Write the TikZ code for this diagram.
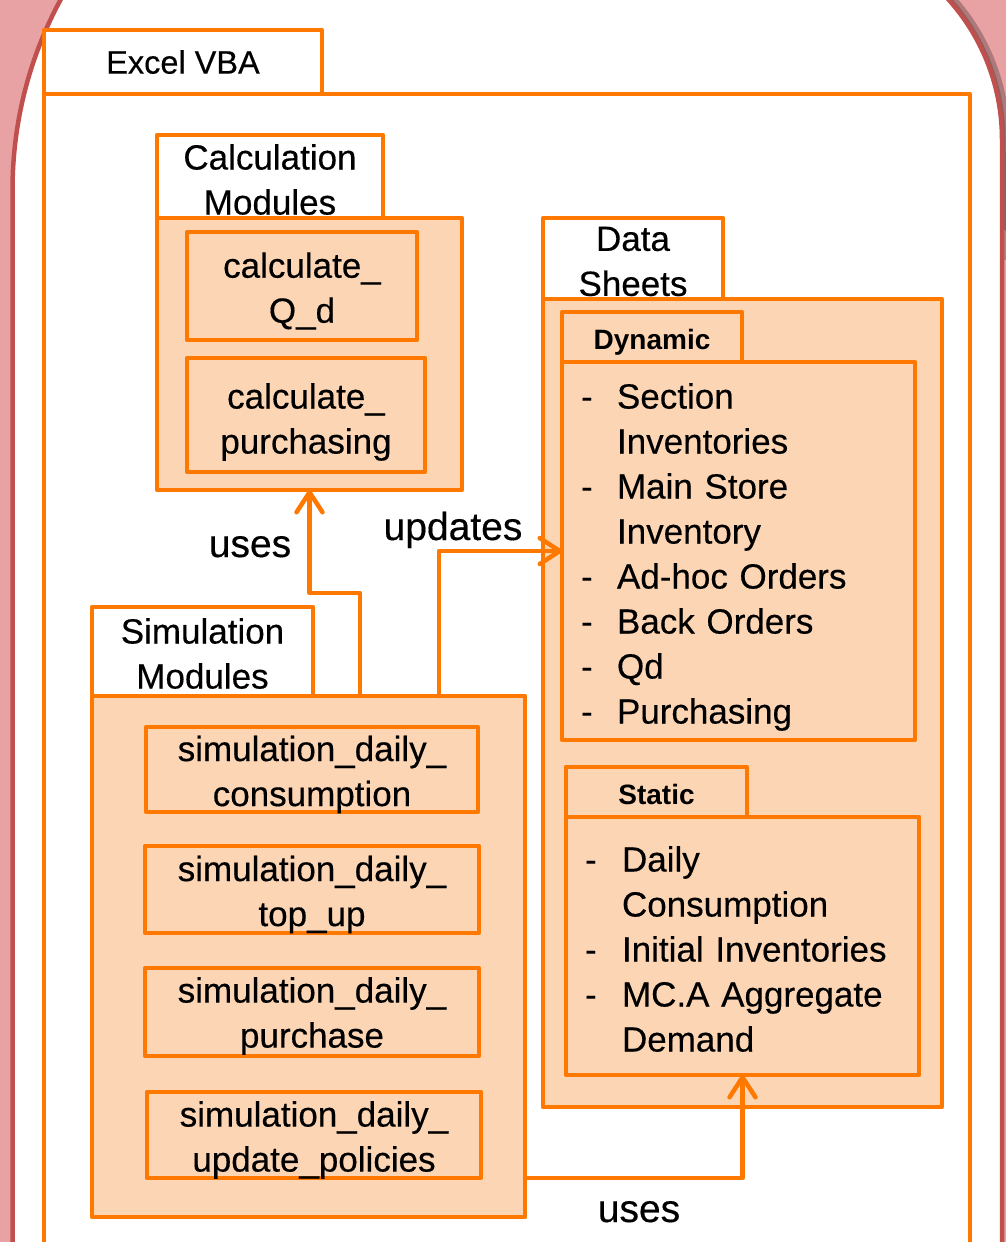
\documentclass[tikz,border=0pt]{standalone}
\usepackage{fontspec}
\setmainfont{Liberation Sans}[FakeBold=0.35]
\newfontfamily\subfam{Liberation Sans}[UprightFont=*-Bold]
\usetikzlibrary{arrows.meta,calc}
\definecolor{orangeline}{RGB}{255,121,0}
\definecolor{peach}{RGB}{252,213,180}
\definecolor{pinkbg}{RGB}{232,162,164}
\definecolor{borderred}{RGB}{192,80,77}
\newcommand\fmain{\fontsize{35}{45}\selectfont}
\newcommand\fvba{\fontsize{32.5}{40}\selectfont}
\newcommand\fsub{\subfam\fontsize{28}{34}\selectfont}
\newcommand\flbl{\fontsize{39}{45}\selectfont}
\newcommand\dashitem[1]{\makebox[36pt][l]{-}#1}
\newcommand\contitem[1]{\hspace*{36pt}#1}
\newcommand\sdashitem[1]{\makebox[37pt][l]{-}#1}
\newcommand\scontitem[1]{\hspace*{37pt}#1}
\begin{document}
\begin{tikzpicture}[x=1pt,y=-1pt,
  box/.style={draw=orangeline, line width=4.5pt, fill=peach, rectangle,
    anchor=north west, inner sep=0pt, outer sep=0pt, line join=round},
  tabw/.style={box, fill=white},
  boxtext/.style={align=center, font=\fmain, text=black, inner sep=0pt},
  listtext/.style={boxtext, align=left, text width=315pt},
  lbl/.style={font=\flbl, text=black, anchor=base, inner sep=0pt},
  conn/.style={draw=orangeline, line width=4.5pt, line cap=round, line join=round,
    -{Straight Barb[length=20pt,width=26pt,line cap=round,line join=round]}}]
\useasboundingbox (0,0) rectangle (1006,1242);
\clip (0,0) rectangle (1006,1242);
% background
\fill[pinkbg] (0,0) rectangle (1006,1242);
\draw[black, opacity=0.25, line width=10pt] (795,-70.5) arc[start angle=270,end angle=360,radius=210] -- (1007,230);
\draw[black, opacity=0.2, line width=5pt] (793,-70.5) arc[start angle=270,end angle=360,radius=210] -- (1005,260);
\filldraw[fill=white, draw=borderred, line width=4.5pt]
  (12.5,1300) -- (12.5,190) arc[start angle=180,end angle=270,radius=400]
  -- (792,-70.5) arc[start angle=270,end angle=360,radius=210] -- (1002,1300) -- cycle;

% Excel VBA
\node[tabw, minimum width=926pt, minimum height=1206pt] (vbabody) at (44,94) {};
\node[tabw, minimum width=278pt, minimum height=64pt] (vbatab) at (44,30) {};
\node[boxtext, font=\fvba] (vbatab-t) at (vbatab.center) {Excel VBA};

% Calculation modules
\node[tabw, minimum width=226pt, minimum height=83pt] (calctab) at (157,135) {};
\node[boxtext] (calctab-t) at ([yshift=-3pt]calctab.center) {Calculation\\Modules};
\node[box, minimum width=305pt, minimum height=272pt] (calcbody) at (157,218) {};
\node[box, minimum width=230pt, minimum height=108pt] (calcq) at (187,232) {};
\node[boxtext] (calcq-t) at ([yshift=-5pt]calcq.center) {calculate\_\\Q\_d};
\node[box, minimum width=238pt, minimum height=114pt] (calcp) at (187,358) {};
\node[boxtext] (calcp-t) at ([yshift=-7pt]calcp.center) {calculate\_\\purchasing};

% Data sheets
\node[tabw, minimum width=180pt, minimum height=81pt] (datatab) at (543,218) {};
\node[boxtext] (datatab-t) at ([yshift=-3pt]datatab.center) {Data\\Sheets};
\node[box, minimum width=399pt, minimum height=808pt] (databody) at (543,299) {};
\node[box, minimum width=180pt, minimum height=50pt] (dyntab) at (562,312) {};
\node[boxtext, font=\fsub] (dyntab-t) at ([yshift=-5pt]dyntab.center) {Dynamic};
\node[box, minimum width=353pt, minimum height=378pt] (dynbody) at (562,362) {};
\node[listtext] (dynbody-t) at ([yshift=-6pt]dynbody.center)
  {\dashitem{Section}\\\contitem{Inventories}\\\dashitem{Main Store}\\\contitem{Inventory}\\\dashitem{Ad-hoc Orders}\\\dashitem{Back Orders}\\\dashitem{Qd}\\\dashitem{Purchasing}};
\node[box, minimum width=181pt, minimum height=50pt] (stattab) at (566,767) {};
\node[boxtext, font=\fsub] (stattab-t) at ([yshift=-2pt]stattab.center) {Static};
\node[box, minimum width=353pt, minimum height=258pt] (statbody) at (566,817) {};
\node[listtext] (statbody-t) at ([yshift=-3pt]statbody.center)
  {\sdashitem{Daily}\\\scontitem{Consumption}\\\sdashitem{Initial Inventories}\\\sdashitem{MC.A Aggregate}\\\scontitem{Demand}};

% Simulation modules
\node[tabw, minimum width=221pt, minimum height=89pt] (simtab) at (92,607) {};
\node[boxtext] (simtab-t) at ([yshift=-2pt]simtab.center) {Simulation\\Modules};
\node[box, minimum width=433pt, minimum height=521pt] (simbody) at (92,696) {};
\node[box, minimum width=332pt, minimum height=85pt] (sim1) at (146,727) {};
\node[boxtext] (sim1-t) at ([yshift=-5pt]sim1.center) {simulation\_daily\_\\consumption};
\node[box, minimum width=334pt, minimum height=87pt] (sim2) at (145,846) {};
\node[boxtext] (sim2-t) at ([yshift=-5pt]sim2.center) {simulation\_daily\_\\top\_up};
\node[box, minimum width=334pt, minimum height=88pt] (sim3) at (145,968) {};
\node[boxtext] (sim3-t) at ([yshift=-4pt]sim3.center) {simulation\_daily\_\\purchase};
\node[box, minimum width=334pt, minimum height=86pt] (sim4) at (147,1092) {};
\node[boxtext] (sim4-t) at ([yshift=-5pt]sim4.center) {simulation\_daily\_\\update\_policies};

% connectors
\draw[conn] ([xshift=268pt]simbody.north west) -- ++(0,-103) -| (calcbody.south);
\draw[conn] ([xshift=347pt]simbody.north west) |- (dynbody.west);
\draw[conn] (simbody.east |- sim4.south) -| (statbody.south);

% labels
\node[lbl] (lbluses) at (250,557) {uses};
\node[lbl] (lblupd) at (453,540) {updates};
\node[lbl] (lbluses2) at (639,1222) {uses};
\end{tikzpicture}
\end{document}
